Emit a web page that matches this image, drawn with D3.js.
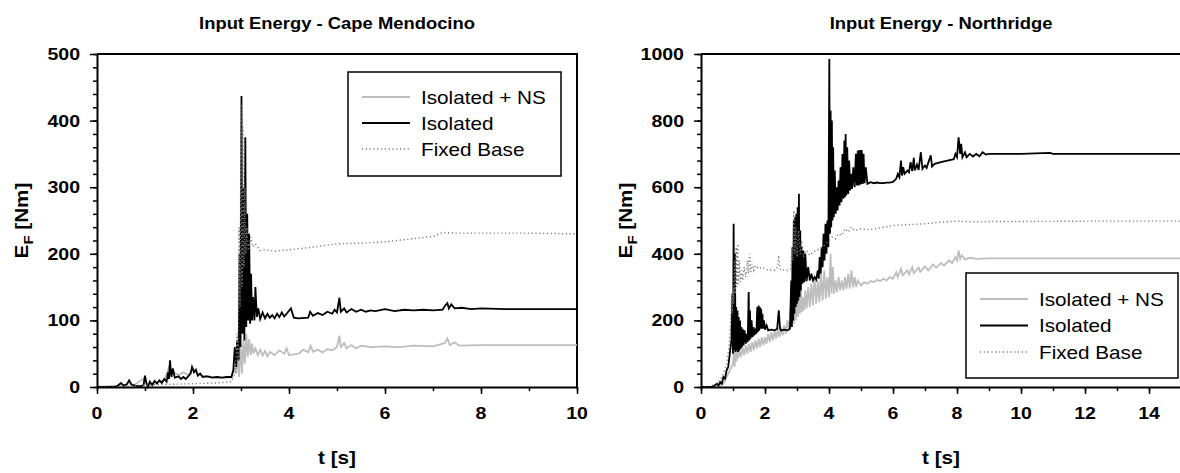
<!DOCTYPE html>
<html><head><meta charset="utf-8">
<script src="https://cdn.jsdelivr.net/npm/d3@7"></script>
<style>
body{margin:0;background:#fff;}
svg{display:block;}
text{font-family:"Liberation Sans",Arial,Helvetica,sans-serif;fill:#000;}
</style>
</head><body>
<svg id="c" width="1180" height="473"></svg>
<script>
// ---------------- DATA ----------------
const seriesNames = ["Isolated + NS", "Isolated", "Fixed Base"];
const chartTitles = ["Input Energy - Cape Mendocino", "Input Energy - Northridge"];
const xTitle = "t [s]";

const capeXTicks = [0, 2, 4, 6, 8, 10];
const capeYTicks = [0, 100, 200, 300, 400, 500];
const northXTicks = [0, 2, 4, 6, 8, 10, 12, 14];
const northYTicks = [0, 200, 400, 600, 800, 1000];

// Cape Mendocino – Isolated
const capeIso = [[0,0],[0.38,0],[0.45,3],[0.5,6],[0.55,2],[0.62,4],[0.67,10],[0.72,3],[0.8,2],[0.9,1],[0.97,3],[1.0,17],[1.03,5],[1.06,0],[1.1,8],[1.15,3],[1.2,9],[1.25,5],[1.3,10],[1.35,6],[1.4,12],[1.45,8],[1.48,22],[1.5,12],[1.52,40],[1.55,15],[1.58,28],[1.62,14],[1.7,16],[1.75,12],[1.8,15],[1.85,12],[1.9,16],[1.95,20],[1.98,30],[2.02,22],[2.06,26],[2.1,17],[2.15,20],[2.2,15],[2.3,16],[2.4,14],[2.5,15],[2.6,14],[2.7,15],[2.8,15],[2.84,25],[2.87,60],[2.9,30],[2.92,70],[2.95,40],[2.97,200],[2.99,60],[3.01,437],[3.03,80],[3.05,300],[3.07,70],[3.09,375],[3.11,90],[3.13,260],[3.15,100],[3.17,230],[3.19,95],[3.21,170],[3.23,100],[3.25,135],[3.28,100],[3.3,150],[3.33,105],[3.36,118],[3.4,102],[3.45,112],[3.5,103],[3.55,110],[3.6,104],[3.65,108],[3.7,103],[3.75,110],[3.8,105],[3.85,112],[3.9,106],[3.95,110],[4.04,118],[4.1,104],[4.19,103],[4.4,104],[4.44,113],[4.5,107],[4.6,111],[4.7,108],[4.8,113],[4.9,110],[4.95,116],[5.0,112],[5.05,134],[5.08,113],[5.15,118],[5.2,112],[5.3,117],[5.4,113],[5.5,116],[5.6,113],[5.7,115],[5.8,114],[6.0,117],[6.2,114],[6.4,116],[6.6,115],[6.8,116],[7.0,115],[7.2,116],[7.25,122],[7.3,126],[7.33,118],[7.38,124],[7.45,118],[7.6,119],[7.8,117],[8.0,118],[8.5,117],[9,117],[10,117]];
// Cape Mendocino – Isolated + NS
const capeNS = [[0,0],[0.45,2],[0.5,5],[0.6,2],[0.67,8],[0.75,2],[1.0,14],[1.05,3],[1.2,7],[1.4,10],[1.5,30],[1.55,18],[1.6,22],[1.7,18],[1.8,22],[1.9,18],[2.0,28],[2.1,20],[2.2,17],[2.4,15],[2.6,14],[2.8,14],[2.86,30],[2.9,20],[2.93,45],[2.96,15],[2.99,65],[3.02,20],[3.05,70],[3.08,35],[3.11,80],[3.14,45],[3.17,72],[3.2,48],[3.23,65],[3.26,50],[3.3,58],[3.35,48],[3.4,56],[3.45,47],[3.5,54],[3.55,46],[3.6,53],[3.7,48],[3.8,55],[3.9,50],[3.95,58],[4.0,48],[4.2,50],[4.3,56],[4.4,52],[4.45,62],[4.5,53],[4.6,56],[4.7,52],[4.8,57],[4.9,55],[5.0,60],[5.05,77],[5.08,60],[5.15,66],[5.2,58],[5.3,63],[5.4,58],[5.5,62],[5.7,60],[6.0,61],[6.3,60],[6.6,62],[7.0,61],[7.25,66],[7.3,73],[7.35,63],[7.45,67],[7.55,62],[8,63],[9,63],[10,63]];
// Cape Mendocino – Fixed Base
const capeFixed = [[0,0],[0.5,1],[1.0,3],[1.5,4],[2.0,5],[2.5,6],[2.8,8],[2.88,20],[2.92,80],[2.94,40],[2.96,240],[2.98,120],[3.0,425],[3.02,150],[3.04,390],[3.06,180],[3.08,300],[3.1,200],[3.12,240],[3.15,205],[3.2,225],[3.25,210],[3.3,215],[3.4,205],[3.5,206],[3.7,204],[4.0,206],[4.5,210],[5.0,215],[5.5,216],[6.0,218],[6.5,222],[7.0,226],[7.2,232],[7.5,231],[8,231],[9,231],[10,230]];

// Northridge – Isolated
const northIso = [[0,0],[0.3,0],[0.4,3],[0.5,10],[0.55,5],[0.6,15],[0.65,10],[0.7,30],[0.75,25],[0.8,50],[0.85,60],[0.9,100],[0.95,140],[0.98,280],[1.0,100],[1.02,490],[1.04,110],[1.06,400],[1.08,105],[1.1,240],[1.12,110],[1.14,230],[1.16,105],[1.18,210],[1.2,110],[1.22,200],[1.24,115],[1.26,180],[1.28,120],[1.3,175],[1.33,125],[1.36,170],[1.4,130],[1.43,160],[1.46,135],[1.49,285],[1.51,140],[1.53,230],[1.55,145],[1.58,200],[1.61,150],[1.64,180],[1.67,155],[1.7,175],[1.73,160],[1.76,240],[1.78,165],[1.8,245],[1.82,170],[1.84,240],[1.86,175],[1.88,235],[1.9,175],[1.92,220],[1.94,175],[1.97,200],[2.0,172],[2.05,185],[2.1,170],[2.2,172],[2.3,170],[2.38,175],[2.43,230],[2.47,175],[2.5,170],[2.6,172],[2.7,170],[2.78,175],[2.82,320],[2.84,180],[2.86,420],[2.88,200],[2.9,500],[2.92,220],[2.94,510],[2.96,240],[2.98,520],[3.0,250],[3.02,540],[3.04,260],[3.06,580],[3.08,270],[3.1,470],[3.12,290],[3.14,420],[3.17,310],[3.2,410],[3.23,315],[3.26,400],[3.3,318],[3.35,360],[3.4,320],[3.45,340],[3.5,320],[3.55,330],[3.6,322],[3.65,350],[3.68,325],[3.71,390],[3.74,340],[3.77,420],[3.8,360],[3.83,460],[3.86,380],[3.89,490],[3.92,400],[3.95,500],[3.98,420],[4.01,985],[4.03,460],[4.05,830],[4.07,480],[4.09,800],[4.11,500],[4.13,720],[4.15,510],[4.18,650],[4.21,520],[4.24,600],[4.27,530],[4.3,620],[4.33,545],[4.36,660],[4.39,555],[4.42,700],[4.45,565],[4.48,740],[4.5,570],[4.52,760],[4.54,575],[4.57,720],[4.6,580],[4.63,680],[4.66,590],[4.69,640],[4.72,595],[4.76,660],[4.8,600],[4.84,700],[4.87,605],[4.9,710],[4.93,605],[4.96,712],[4.99,608],[5.02,712],[5.05,610],[5.08,700],[5.11,612],[5.15,660],[5.2,610],[5.3,615],[5.4,612],[5.5,614],[5.6,612],[5.7,612],[5.8,614],[5.9,614],[6.0,616],[6.1,625],[6.15,640],[6.2,630],[6.25,680],[6.28,635],[6.32,660],[6.36,640],[6.45,650],[6.5,645],[6.55,675],[6.6,648],[6.65,688],[6.68,650],[6.75,668],[6.8,652],[6.87,705],[6.92,655],[7.0,665],[7.05,658],[7.18,696],[7.22,662],[7.3,670],[7.5,675],[7.7,680],[7.9,684],[7.95,700],[8.0,690],[8.05,750],[8.1,700],[8.13,730],[8.17,690],[8.25,705],[8.3,690],[8.4,700],[8.5,692],[8.6,700],[8.7,693],[8.8,705],[8.9,698],[9,700],[10,700],[10.9,703],[11,700],[12,700],[13,700],[14,700],[15,700]];
// Northridge – Isolated + NS
const northNS = [[0,0],[0.4,1],[0.6,5],[0.7,10],[0.8,30],[0.9,50],[0.95,60],[1.0,70],[1.03,110],[1.05,60],[1.08,130],[1.1,75],[1.13,120],[1.16,85],[1.2,110],[1.25,90],[1.3,120],[1.35,95],[1.4,125],[1.45,100],[1.5,130],[1.55,105],[1.6,135],[1.65,110],[1.7,140],[1.75,115],[1.8,145],[1.85,120],[1.9,150],[1.95,125],[2.0,150],[2.05,130],[2.1,160],[2.15,135],[2.2,165],[2.25,140],[2.3,170],[2.35,145],[2.4,175],[2.45,150],[2.5,180],[2.55,155],[2.6,185],[2.65,160],[2.7,200],[2.75,170],[2.8,230],[2.83,180],[2.87,260],[2.9,190],[2.93,240],[2.96,200],[3.0,250],[3.03,210],[3.06,280],[3.09,220],[3.12,300],[3.15,225],[3.18,270],[3.22,230],[3.26,290],[3.3,235],[3.35,300],[3.4,240],[3.45,310],[3.5,245],[3.55,330],[3.6,250],[3.65,320],[3.7,255],[3.75,340],[3.8,260],[3.85,350],[3.9,265],[3.95,330],[4.0,270],[4.05,400],[4.08,280],[4.12,360],[4.16,280],[4.2,320],[4.25,285],[4.3,330],[4.35,290],[4.4,320],[4.45,290],[4.5,330],[4.55,295],[4.6,340],[4.65,295],[4.7,350],[4.75,300],[4.8,330],[4.85,300],[4.9,320],[5.0,305],[5.1,315],[5.2,310],[5.3,318],[5.4,315],[5.5,322],[5.6,318],[5.7,325],[5.8,320],[5.9,330],[6.0,325],[6.1,345],[6.15,330],[6.25,355],[6.3,335],[6.45,350],[6.5,338],[6.6,360],[6.65,342],[6.8,358],[6.85,345],[7.0,362],[7.1,350],[7.25,368],[7.35,358],[7.5,372],[7.6,365],[7.75,380],[7.85,372],[7.95,390],[8.0,380],[8.05,410],[8.1,385],[8.15,395],[8.25,383],[8.4,388],[8.6,385],[9,386],[10,386],[12,386],[15,386]];
// Northridge – Fixed Base
const northFixed = [[0,0],[0.3,2],[0.5,12],[0.6,20],[0.7,40],[0.8,70],[0.85,100],[0.9,150],[0.93,200],[0.96,280],[0.98,220],[1.0,300],[1.02,250],[1.05,380],[1.07,280],[1.1,420],[1.12,300],[1.15,430],[1.17,310],[1.2,380],[1.23,315],[1.27,350],[1.3,320],[1.35,360],[1.4,330],[1.45,380],[1.48,340],[1.52,400],[1.55,345],[1.6,370],[1.65,350],[1.7,365],[1.8,355],[1.9,360],[2.0,355],[2.1,350],[2.2,352],[2.3,350],[2.4,360],[2.43,395],[2.46,360],[2.5,350],[2.6,352],[2.7,350],[2.8,355],[2.84,420],[2.87,380],[2.9,530],[2.93,400],[2.96,480],[3.0,390],[3.05,470],[3.1,400],[3.15,440],[3.2,390],[3.3,410],[3.4,395],[3.5,405],[3.6,410],[3.7,415],[3.8,420],[3.9,430],[4.0,440],[4.1,450],[4.2,445],[4.3,460],[4.4,455],[4.5,475],[4.6,465],[4.7,480],[4.8,470],[5.0,475],[5.2,472],[5.5,476],[6.0,485],[6.5,488],[7.0,490],[7.5,495],[8.0,498],[8.5,496],[9,497],[10,497],[12,498],[15,498]];

// ---------------- DRAWING ----------------
const SX = 1.15;
const svg = d3.select("#c");
const styles = [
  {stroke:"#bdbdbd", width:1.8, dash:null},
  {stroke:"#000", width:1.8, dash:null},
  {stroke:"#7a7a7a", width:1.4, dash:"1.2,2.6"}
];

function label(g, x, y, s, size, weight, anchor) {
  return g.append("text")
    .attr("transform", `translate(${x},${y}) scale(${SX},1)`)
    .attr("text-anchor", anchor || "middle")
    .style("font-size", size + "px")
    .style("font-weight", weight || "normal")
    .text(s);
}

function panel(cfg) {
  const g = svg.append("g");
  const x = d3.scaleLinear().domain([0, cfg.xmax]).range([cfg.x0, cfg.x1]);
  const y = d3.scaleLinear().domain([0, cfg.ymax]).range([387, 54]);

  // frame (top and right)
  g.append("path")
    .attr("d", `M${x.range()[0]},${y(cfg.ymax)}H${x(cfg.xmax)}V${y(0)}`)
    .attr("fill", "none").attr("stroke", "#000").attr("stroke-width", 2);

  // series
  const line = d3.line().x(d => x(d[0])).y(d => y(d[1]));
  cfg.series.forEach((s, i) => {
    const st = styles[i];
    g.append("path").datum(s).attr("d", line)
      .attr("fill", "none").attr("stroke", st.stroke)
      .attr("stroke-width", st.width)
      .attr("stroke-linejoin", "miter")
      .attr("stroke-dasharray", st.dash);
  });

  // x axis: minor + major ticks
  const xMinor = d3.range(0, cfg.xmax + 1, 1);
  g.append("g").attr("transform", `translate(0,${y(0)})`)
    .call(d3.axisBottom(x).tickValues(xMinor).tickSize(4).tickSizeOuter(0).tickFormat(""))
    .call(a => a.selectAll("line").attr("stroke-width", 1.5))
    .call(a => a.select(".domain").attr("stroke-width", 2));
  g.append("g").attr("transform", `translate(0,${y(0)})`)
    .call(d3.axisBottom(x).tickValues(cfg.xTicks).tickSize(7).tickSizeOuter(0).tickFormat(""))
    .call(a => a.selectAll("line").attr("stroke-width", 1.5))
    .call(a => a.select(".domain").remove());

  // y axis
  const yMinor = d3.range(0, cfg.ymax + 1, cfg.yMinorStep);
  g.append("g").attr("transform", `translate(${x(0)},0)`)
    .call(d3.axisLeft(y).tickValues(yMinor).tickSize(4).tickSizeOuter(0).tickFormat(""))
    .call(a => a.selectAll("line").attr("stroke-width", 1.5))
    .call(a => a.select(".domain").attr("stroke-width", 2));
  g.append("g").attr("transform", `translate(${x(0)},0)`)
    .call(d3.axisLeft(y).tickValues(cfg.yTicks).tickSize(7).tickSizeOuter(0).tickFormat(""))
    .call(a => a.selectAll("line").attr("stroke-width", 1.5))
    .call(a => a.select(".domain").remove());

  // tick labels
  cfg.xTicks.forEach(v => label(g, x(v), 419, String(v), 17, "bold"));
  cfg.yTicks.forEach(v => label(g, x(0) - 17, y(v) + 6, String(v), 17, "bold", "end"));

  // titles
  const cx = (cfg.x0 + cfg.x1) / 2;
  label(g, cx, 29, cfg.title, 16, "bold");
  label(g, cx, 464, xTitle, 18, "bold");

  // y title with subscript
  const yt = g.append("text")
    .attr("transform", `translate(${x(0) - 69},${(y(0) + y(cfg.ymax)) / 2}) rotate(-90) scale(${SX},1)`)
    .attr("text-anchor", "middle")
    .style("font-size", "18px").style("font-weight", "bold");
  yt.append("tspan").text("E");
  yt.append("tspan").attr("dy", 5).style("font-size", "13px").text("F");
  yt.append("tspan").attr("dy", -5).text(" [Nm]");

  // legend
  const L = cfg.legend;
  g.append("rect").attr("x", L.x).attr("y", L.y).attr("width", L.w).attr("height", L.h)
    .attr("fill", "#fff").attr("stroke", "#000").attr("stroke-width", 1.5);
  seriesNames.forEach((n, i) => {
    const ry = L.y + L.first + i * L.step;
    const st = styles[i];
    g.append("line").attr("x1", L.x + L.lx1).attr("x2", L.x + L.lx2)
      .attr("y1", ry).attr("y2", ry)
      .attr("stroke", st.stroke).attr("stroke-width", st.width)
      .attr("stroke-dasharray", st.dash);
    label(g, L.x + L.tx, ry + 6.5, n, 18, "normal", "start");
  });
}

panel({
  x0: 97, x1: 577, xmax: 10, ymax: 500, yMinorStep: 20,
  xTicks: capeXTicks, yTicks: capeYTicks, title: chartTitles[0],
  series: [capeNS, capeIso, capeFixed],
  legend: {x: 348, y: 72, w: 213, h: 104, first: 25, step: 26, lx1: 14, lx2: 62, tx: 73}
});
panel({
  x0: 701, x1: 1181, xmax: 15, ymax: 1000, yMinorStep: 40,
  xTicks: northXTicks, yTicks: northYTicks, title: chartTitles[1],
  series: [northNS, northIso, northFixed],
  legend: {x: 966, y: 273, w: 212, h: 105, first: 26, step: 26.5, lx1: 14, lx2: 62, tx: 73}
});
</script>
</body></html>
